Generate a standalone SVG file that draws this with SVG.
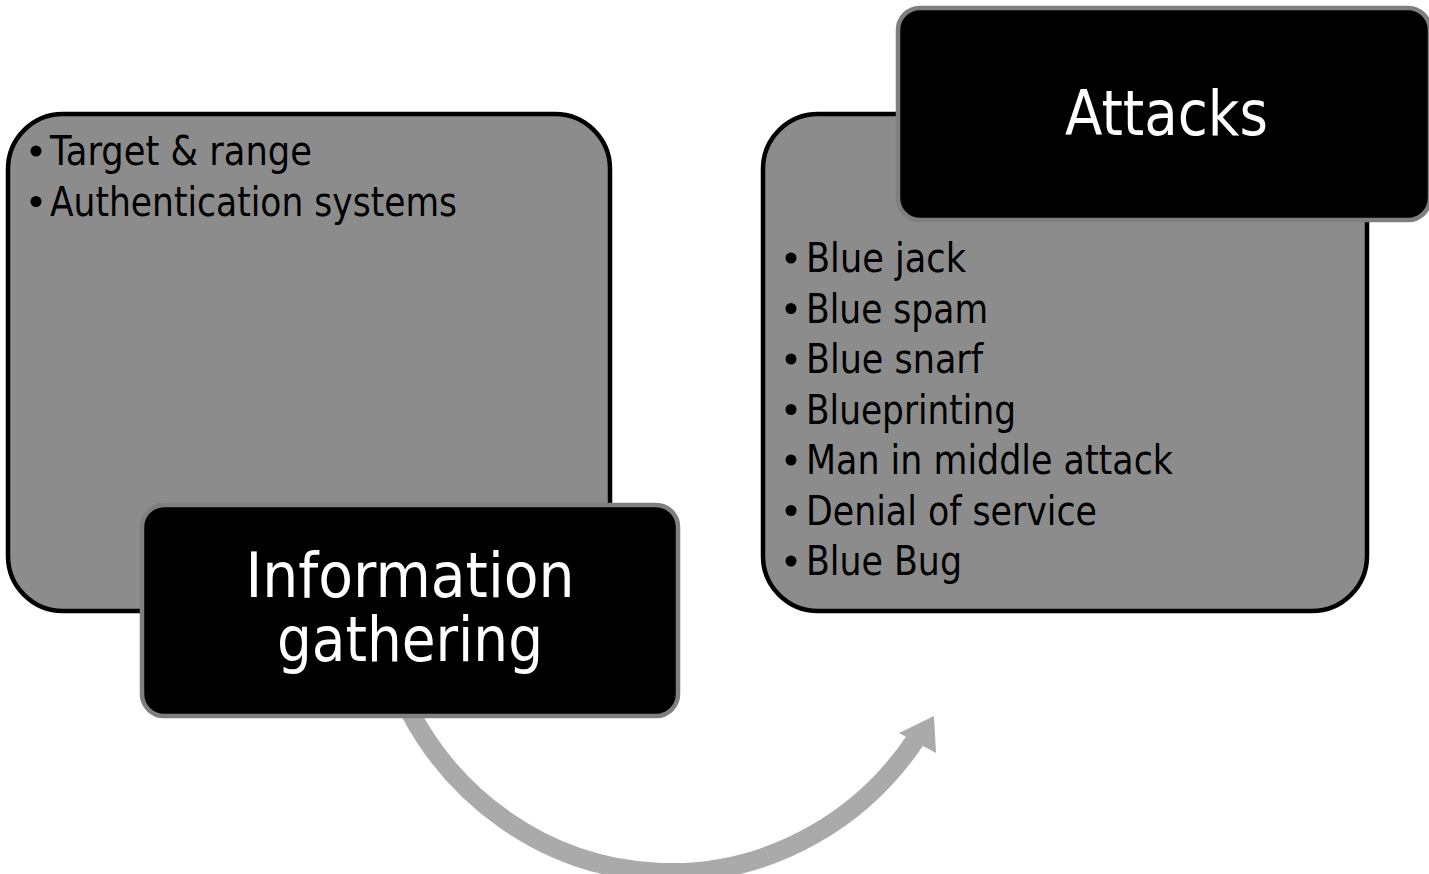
<svg xmlns="http://www.w3.org/2000/svg" width="1429" height="874" viewBox="0 0 1429 874">
  <style>
    .panel { fill: #8c8c8c; stroke: #000000; stroke-width: 4.5; }
    .title { fill: #000000; stroke: #7f7f7f; stroke-width: 4.5; }
    .item { font-family: "DejaVu Sans", "Liberation Sans", sans-serif; font-size: 40px; fill: #000000; }
    .head { font-family: "DejaVu Sans", "Liberation Sans", sans-serif; font-size: 62px; fill: #ffffff; text-anchor: middle; }
    .dot { fill: #000000; }
    .flow { fill: none; stroke: #aaaaaa; stroke-width: 19; }
    .tip { fill: #aaaaaa; }
  </style>

  <!-- curved flow arrow between the two stages -->
  <g id="connectors">
    <path class="flow" d="M 410 712 A 298 310 0 0 0 918 736"/>
    <polygon class="tip" points="934,716 899,733 936,753"/>
  </g>

  <!-- stage 1 -->
  <g id="info-panel">
    <rect class="panel" x="8" y="114" width="602" height="497" rx="55" ry="55"/>
    <circle class="dot" cx="36" cy="151" r="5.5"/>
    <text class="item" x="50" y="165" textLength="262" lengthAdjust="spacingAndGlyphs">Target &amp; range</text>
    <circle class="dot" cx="36" cy="201.5" r="5.5"/>
    <text class="item" x="50" y="215.5" textLength="407" lengthAdjust="spacingAndGlyphs">Authentication systems</text>
  </g>
  <g id="info-title">
    <rect class="title" x="142" y="505" width="536" height="211" rx="22" ry="22"/>
    <text class="head" x="410" y="597" textLength="329" lengthAdjust="spacingAndGlyphs">Information</text>
    <text class="head" x="410" y="661" textLength="266" lengthAdjust="spacingAndGlyphs">gathering</text>
  </g>

  <!-- stage 2 -->
  <g id="attacks-panel">
    <rect class="panel" x="763" y="114" width="604" height="497" rx="55" ry="55"/>
    <g>
      <circle class="dot" cx="791" cy="258" r="5.5"/>
      <text class="item" x="806" y="272" textLength="160" lengthAdjust="spacingAndGlyphs">Blue jack</text>
      <circle class="dot" cx="791" cy="308.5" r="5.5"/>
      <text class="item" x="806" y="322.5" textLength="182" lengthAdjust="spacingAndGlyphs">Blue spam</text>
      <circle class="dot" cx="791" cy="359" r="5.5"/>
      <text class="item" x="806" y="373" textLength="177" lengthAdjust="spacingAndGlyphs">Blue snarf</text>
      <circle class="dot" cx="791" cy="409.5" r="5.5"/>
      <text class="item" x="806" y="423.5" textLength="210" lengthAdjust="spacingAndGlyphs">Blueprinting</text>
      <circle class="dot" cx="791" cy="460" r="5.5"/>
      <text class="item" x="806" y="474" textLength="367" lengthAdjust="spacingAndGlyphs">Man in middle attack</text>
      <circle class="dot" cx="791" cy="510.5" r="5.5"/>
      <text class="item" x="806" y="524.5" textLength="291" lengthAdjust="spacingAndGlyphs">Denial of service</text>
      <circle class="dot" cx="791" cy="561" r="5.5"/>
      <text class="item" x="806" y="575" textLength="156" lengthAdjust="spacingAndGlyphs">Blue Bug</text>
    </g>
  </g>
  <g id="attacks-title">
    <rect class="title" x="898" y="8" width="532" height="212" rx="22" ry="22"/>
    <text class="head" x="1166.5" y="135" textLength="203" lengthAdjust="spacingAndGlyphs">Attacks</text>
  </g>
</svg>
